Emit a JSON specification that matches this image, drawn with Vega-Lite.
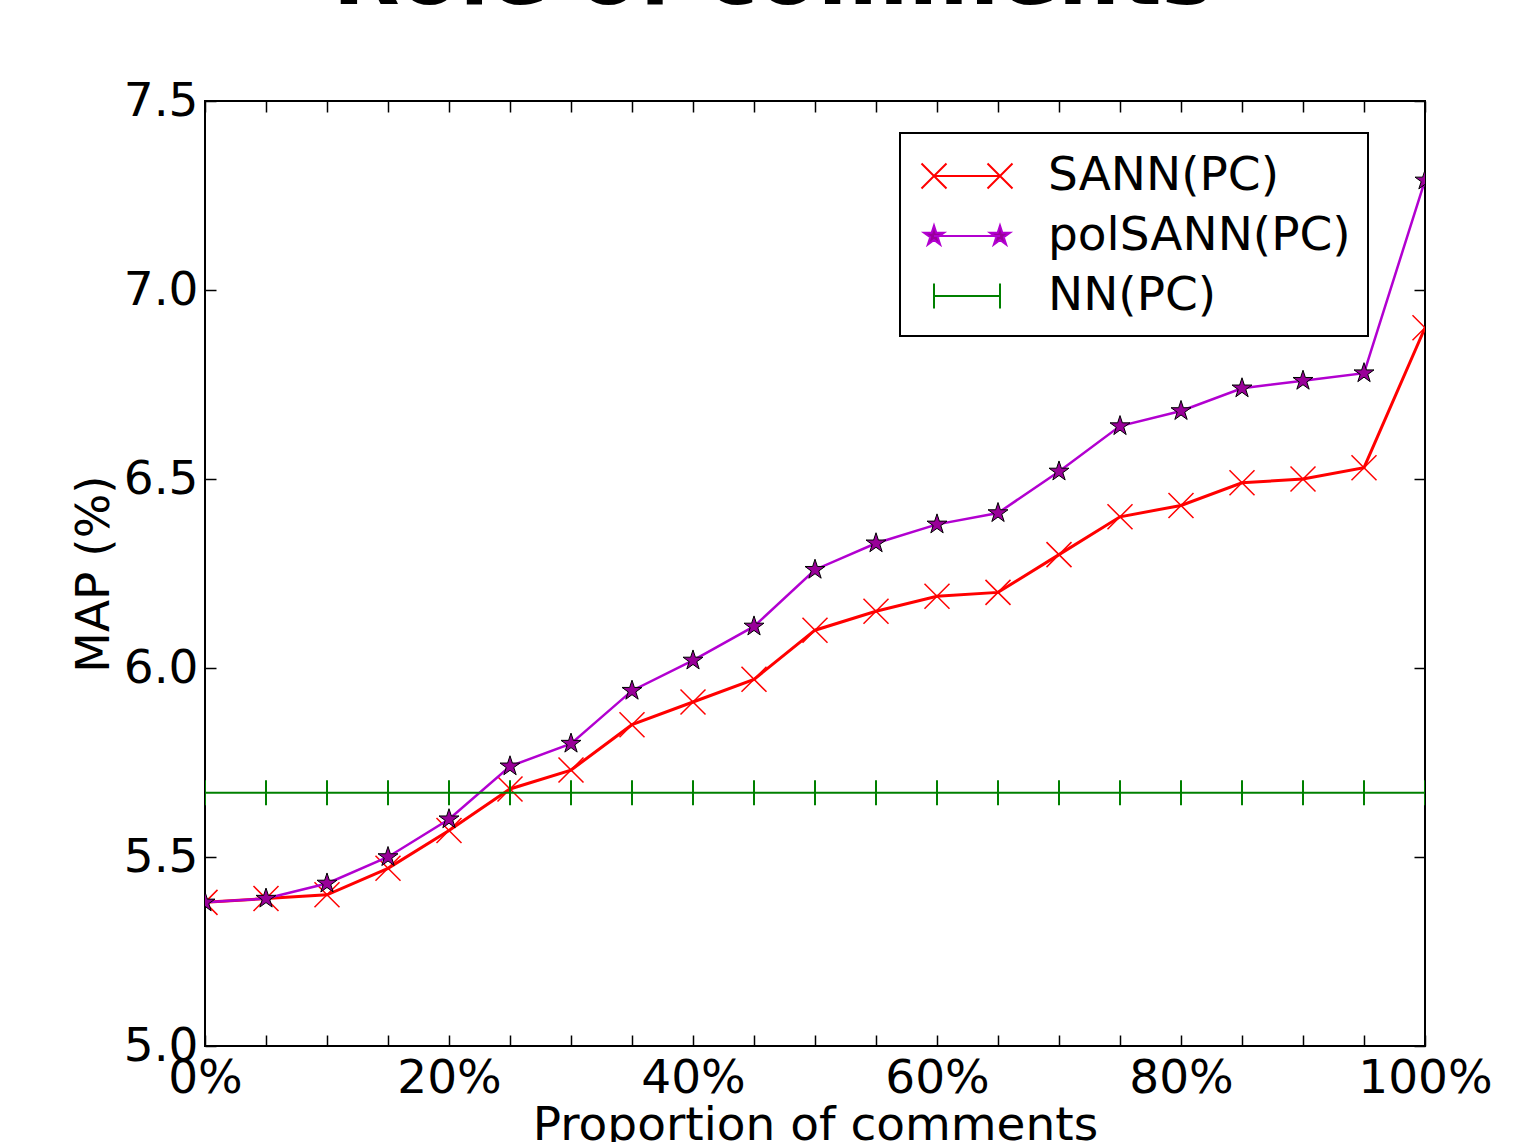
{
  "$schema": "https://vega.github.io/schema/vega-lite/v6.json",
  "width": 1220,
  "height": 945,
  "autosize": {"type": "none"},
  "padding": {"left": 205, "top": 101, "right": 109, "bottom": 96},
  "background": "white",
  "config": {
    "font": "DejaVu Sans",
    "view": {"stroke": "black", "strokeWidth": 2},
    "axis": {
      "domain": false, "grid": false,
      "labelFont": "DejaVu Sans", "labelFontSize": 47, "labelColor": "black",
      "tickColor": "black", "tickWidth": 1.5, "tickSize": -11,
      "titleFont": "DejaVu Sans", "titleFontSize": 47, "titleFontWeight": "normal", "titleColor": "black"
    }
  },
  "title": {"text": "Role of comments", "font": "DejaVu Sans", "fontSize": 87, "fontWeight": "bold", "color": "black", "baseline": "alphabetic", "offset": -14, "dx": -42, "anchor": "middle"},
  "data": {"values": [
    {"series": "SANN(PC)", "x": 0, "y": 5.38}, {"series": "SANN(PC)", "x": 5, "y": 5.39}, {"series": "SANN(PC)", "x": 10, "y": 5.40},
    {"series": "SANN(PC)", "x": 15, "y": 5.47}, {"series": "SANN(PC)", "x": 20, "y": 5.57}, {"series": "SANN(PC)", "x": 25, "y": 5.68},
    {"series": "SANN(PC)", "x": 30, "y": 5.73}, {"series": "SANN(PC)", "x": 35, "y": 5.85}, {"series": "SANN(PC)", "x": 40, "y": 5.91},
    {"series": "SANN(PC)", "x": 45, "y": 5.97}, {"series": "SANN(PC)", "x": 50, "y": 6.10}, {"series": "SANN(PC)", "x": 55, "y": 6.15},
    {"series": "SANN(PC)", "x": 60, "y": 6.19}, {"series": "SANN(PC)", "x": 65, "y": 6.20}, {"series": "SANN(PC)", "x": 70, "y": 6.30},
    {"series": "SANN(PC)", "x": 75, "y": 6.40}, {"series": "SANN(PC)", "x": 80, "y": 6.43}, {"series": "SANN(PC)", "x": 85, "y": 6.49},
    {"series": "SANN(PC)", "x": 90, "y": 6.50}, {"series": "SANN(PC)", "x": 95, "y": 6.53}, {"series": "SANN(PC)", "x": 100, "y": 6.90},
    {"series": "polSANN(PC)", "x": 0, "y": 5.38}, {"series": "polSANN(PC)", "x": 5, "y": 5.39}, {"series": "polSANN(PC)", "x": 10, "y": 5.43},
    {"series": "polSANN(PC)", "x": 15, "y": 5.50}, {"series": "polSANN(PC)", "x": 20, "y": 5.60}, {"series": "polSANN(PC)", "x": 25, "y": 5.74},
    {"series": "polSANN(PC)", "x": 30, "y": 5.80}, {"series": "polSANN(PC)", "x": 35, "y": 5.94}, {"series": "polSANN(PC)", "x": 40, "y": 6.02},
    {"series": "polSANN(PC)", "x": 45, "y": 6.11}, {"series": "polSANN(PC)", "x": 50, "y": 6.26}, {"series": "polSANN(PC)", "x": 55, "y": 6.33},
    {"series": "polSANN(PC)", "x": 60, "y": 6.38}, {"series": "polSANN(PC)", "x": 65, "y": 6.41}, {"series": "polSANN(PC)", "x": 70, "y": 6.52},
    {"series": "polSANN(PC)", "x": 75, "y": 6.64}, {"series": "polSANN(PC)", "x": 80, "y": 6.68}, {"series": "polSANN(PC)", "x": 85, "y": 6.74},
    {"series": "polSANN(PC)", "x": 90, "y": 6.76}, {"series": "polSANN(PC)", "x": 95, "y": 6.78}, {"series": "polSANN(PC)", "x": 100, "y": 7.29},
    {"series": "NN(PC)", "x": 0, "y": 5.67}, {"series": "NN(PC)", "x": 5, "y": 5.67}, {"series": "NN(PC)", "x": 10, "y": 5.67},
    {"series": "NN(PC)", "x": 15, "y": 5.67}, {"series": "NN(PC)", "x": 20, "y": 5.67}, {"series": "NN(PC)", "x": 25, "y": 5.67},
    {"series": "NN(PC)", "x": 30, "y": 5.67}, {"series": "NN(PC)", "x": 35, "y": 5.67}, {"series": "NN(PC)", "x": 40, "y": 5.67},
    {"series": "NN(PC)", "x": 45, "y": 5.67}, {"series": "NN(PC)", "x": 50, "y": 5.67}, {"series": "NN(PC)", "x": 55, "y": 5.67},
    {"series": "NN(PC)", "x": 60, "y": 5.67}, {"series": "NN(PC)", "x": 65, "y": 5.67}, {"series": "NN(PC)", "x": 70, "y": 5.67},
    {"series": "NN(PC)", "x": 75, "y": 5.67}, {"series": "NN(PC)", "x": 80, "y": 5.67}, {"series": "NN(PC)", "x": 85, "y": 5.67},
    {"series": "NN(PC)", "x": 90, "y": 5.67}, {"series": "NN(PC)", "x": 95, "y": 5.67}, {"series": "NN(PC)", "x": 100, "y": 5.67}
  ]},
  "layer": [
    {
      "transform": [{"filter": "datum.series === 'SANN(PC)'"}],
      "mark": {"type": "line", "strokeWidth": 3, "clip": true},
      "encoding": {
        "x": {"field": "x", "type": "quantitative", "scale": {"domain": [0, 100], "nice": false, "zero": false},
          "axis": {"orient": "bottom", "values": [0,5,10,15,20,25,30,35,40,45,50,55,60,65,70,75,80,85,90,95,100],
            "labelExpr": "datum.value % 20 === 0 ? datum.value + '%' : ''", "labelFlush": false, "labelOverlap": false,
            "labelPadding": 20, "title": "Proportion of comments", "titlePadding": 1}},
        "y": {"field": "y", "type": "quantitative", "scale": {"domain": [5, 7.5], "nice": false, "zero": false},
          "axis": {"orient": "left", "values": [5, 5.5, 6, 6.5, 7, 7.5], "format": ".1f", "labelFlush": false, "labelOverlap": false,
            "labelPadding": 18, "title": "MAP (%)", "titlePadding": 5}},
        "color": {"field": "series", "type": "nominal",
          "scale": {"domain": ["SANN(PC)", "polSANN(PC)", "NN(PC)"], "range": ["#ff0000", "#b200d0", "#008000"]},
          "legend": {
            "title": null, "orient": "none", "legendX": 695, "legendY": 32,
            "padding": 17, "rowPadding": 11, "symbolOffset": 24, "labelOffset": 55,
            "symbolSize": 2500, "symbolStrokeWidth": 2,
            "labelFont": "DejaVu Sans", "labelFontSize": 47, "labelColor": "black", "labelLimit": 1000,
            "fillColor": "white", "strokeColor": "black", "cornerRadius": 0,
            "encode": {
              "legend": {"update": {"strokeWidth": {"value": 2}}},
              "symbols": {"update": {
                "shape": {"signal": "datum.value === 'SANN(PC)' ? 'M-1.32,0L1.32,0M-1.82,-0.5L-0.82,0.5M-1.82,0.5L-0.82,-0.5M0.82,-0.5L1.82,0.5M0.82,0.5L1.82,-0.5' : datum.value === 'polSANN(PC)' ? 'M-1.32,0L1.32,0M-1.32,-0.42L-1.226,-0.13L-0.92,-0.13L-1.168,0.05L-1.073,0.34L-1.32,0.16L-1.567,0.34L-1.472,0.05L-1.72,-0.13L-1.414,-0.13ZM1.32,-0.42L1.414,-0.13L1.72,-0.13L1.472,0.05L1.567,0.34L1.32,0.16L1.073,0.34L1.168,0.05L0.92,-0.13L1.226,-0.13Z' : 'M-1.32,0L1.32,0M-1.32,-0.5L-1.32,0.5M1.32,-0.5L1.32,0.5'"},
                "fill": {"signal": "datum.value === 'polSANN(PC)' ? '#990099' : 'transparent'"},
                "stroke": {"signal": "datum.value === 'SANN(PC)' ? '#ff0000' : datum.value === 'polSANN(PC)' ? '#a000b8' : '#008000'"},
                "strokeWidth": {"value": 2},
                "size": {"value": 2500},
                "opacity": {"value": 1}
              }}
            }
          }
        }
      }
    },
    {
      "transform": [{"filter": "datum.series === 'SANN(PC)'"}],
      "mark": {"type": "point", "shape": "M-1,-1L1,1M-1,1L1,-1", "size": 625, "filled": false, "stroke": "#ff0000", "strokeWidth": 1.5, "opacity": 1, "clip": true},
      "encoding": {
        "x": {"field": "x", "type": "quantitative", "axis": null},
        "y": {"field": "y", "type": "quantitative", "axis": null}
      }
    },
    {
      "transform": [{"filter": "datum.series === 'polSANN(PC)'"}],
      "mark": {"type": "line", "strokeWidth": 2.5, "clip": true},
      "encoding": {
        "x": {"field": "x", "type": "quantitative", "axis": null},
        "y": {"field": "y", "type": "quantitative", "axis": null},
        "color": {"field": "series", "type": "nominal"}
      }
    },
    {
      "transform": [{"filter": "datum.series === 'polSANN(PC)'"}],
      "mark": {"type": "point", "shape": "M0,-1L0.225,-0.309L0.951,-0.309L0.363,0.118L0.588,0.809L0,0.382L-0.588,0.809L-0.363,0.118L-0.951,-0.309L-0.225,-0.309Z", "size": 441, "filled": true, "fill": "#990099", "stroke": "black", "strokeWidth": 1, "opacity": 1, "clip": true},
      "encoding": {
        "x": {"field": "x", "type": "quantitative", "axis": null},
        "y": {"field": "y", "type": "quantitative", "axis": null}
      }
    },
    {
      "transform": [{"filter": "datum.series === 'NN(PC)'"}],
      "mark": {"type": "line", "strokeWidth": 2, "clip": true},
      "encoding": {
        "x": {"field": "x", "type": "quantitative", "axis": null},
        "y": {"field": "y", "type": "quantitative", "axis": null},
        "color": {"field": "series", "type": "nominal"}
      }
    },
    {
      "transform": [{"filter": "datum.series === 'NN(PC)'"}],
      "mark": {"type": "point", "shape": "M0,-1L0,1", "size": 625, "filled": false, "stroke": "#008000", "strokeWidth": 2, "opacity": 1, "clip": true},
      "encoding": {
        "x": {"field": "x", "type": "quantitative",
          "axis": {"orient": "top", "values": [0,5,10,15,20,25,30,35,40,45,50,55,60,65,70,75,80,85,90,95,100], "labels": false, "title": null}},
        "y": {"field": "y", "type": "quantitative",
          "axis": {"orient": "right", "values": [5, 5.5, 6, 6.5, 7, 7.5], "labels": false, "title": null}}
      }
    }
  ],
  "resolve": {"axis": {"x": "independent", "y": "independent"}}
}
